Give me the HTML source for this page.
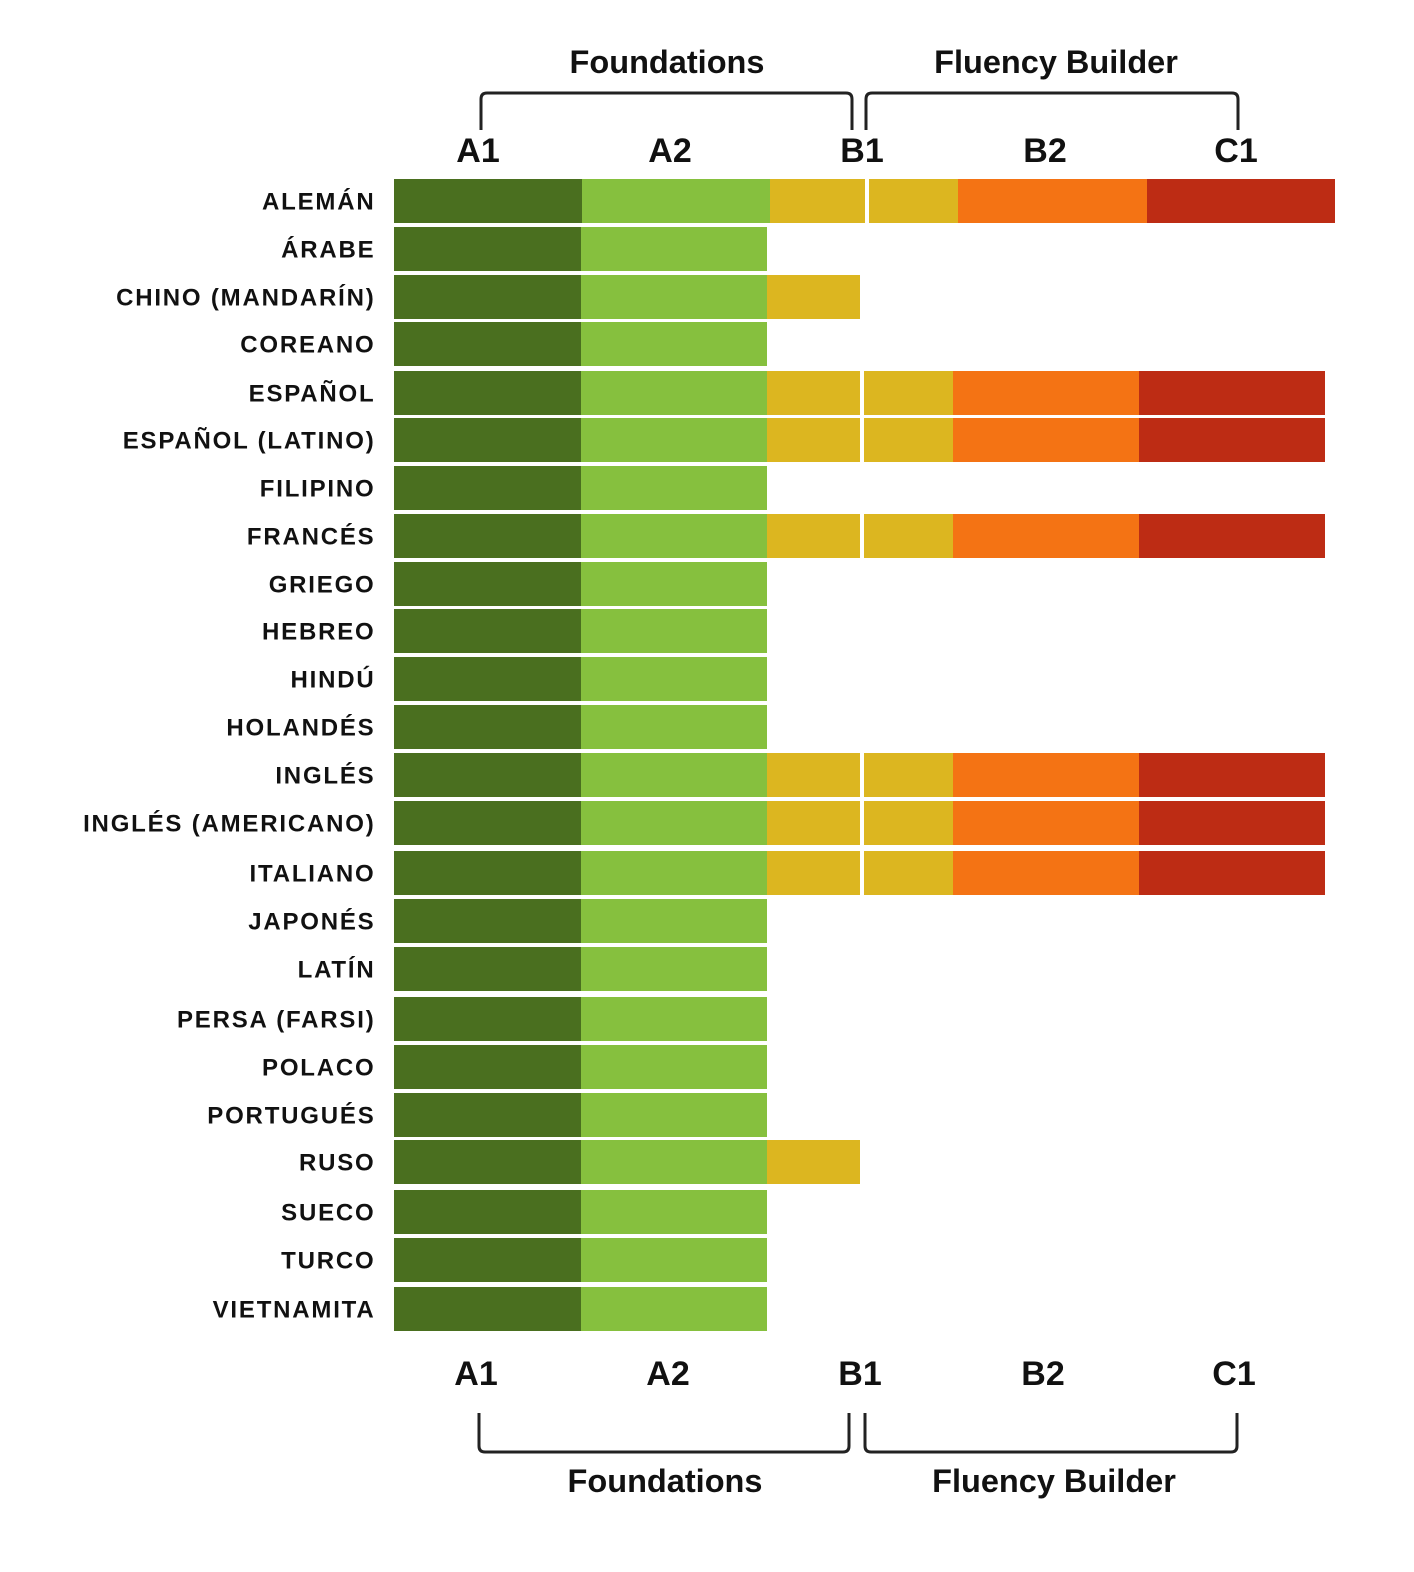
<!DOCTYPE html>
<html><head><meta charset="utf-8"><style>
html,body{margin:0;padding:0;background:#fff;}
svg{display:block;}
text{font-family:"Liberation Sans",sans-serif;font-weight:bold;fill:#111;}
</style></head><body>
<svg id="s" width="1414" height="1572" viewBox="0 0 1414 1572" xmlns="http://www.w3.org/2000/svg">
<g fill="none" stroke="#222" stroke-width="3">
<path d="M481 130 V99 Q481 93 487 93 H846 Q852 93 852 99 V130"/>
<path d="M866 130 V99 Q866 93 872 93 H1232 Q1238 93 1238 99 V130"/>
<path d="M479 1413 V1446 Q479 1452 485 1452 H843 Q849 1452 849 1446 V1413"/>
<path d="M865 1413 V1446 Q865 1452 871 1452 H1231 Q1237 1452 1237 1446 V1413"/>
</g>
<g font-size="32.5" text-anchor="middle">
<text x="667" y="73">Foundations</text><text x="1056" y="73">Fluency Builder</text>
<text x="665" y="1492">Foundations</text><text x="1054" y="1492">Fluency Builder</text>
</g>
<g font-size="34" text-anchor="middle">
<text x="478" y="162">A1</text><text x="670" y="162">A2</text><text x="862" y="162">B1</text><text x="1045" y="162">B2</text><text x="1236" y="162">C1</text>
<text x="476" y="1385">A1</text><text x="668" y="1385">A2</text><text x="860" y="1385">B1</text><text x="1043" y="1385">B2</text><text x="1234" y="1385">C1</text>
</g>
<g id="rows"></g>
</svg>
<script>
var rows=[["ALEMÁN",201,3],["ÁRABE",249,1],["CHINO (MANDARÍN)",297,2],["COREANO",344,1],["ESPAÑOL",393,3],["ESPAÑOL (LATINO)",440,3],["FILIPINO",488,1],["FRANCÉS",536,3],["GRIEGO",584,1],["HEBREO",631,1],["HINDÚ",679,1],["HOLANDÉS",727,1],["INGLÉS",775,3],["INGLÉS (AMERICANO)",823,3],["ITALIANO",873,3],["JAPONÉS",921,1],["LATÍN",969,1],["PERSA (FARSI)",1019,1],["POLACO",1067,1],["PORTUGUÉS",1115,1],["RUSO",1162,2],["SUECO",1212,1],["TURCO",1260,1],["VIETNAMITA",1309,1]];
var g=document.getElementById('rows'),h='';
rows.forEach(function(r,i){
 var y=r[1]-22,H=44;
 var a=(i==0)?[394,582,770,865,869,958,1147,1335]:[394,581,767,860,864,953,1139,1325];
 h+='<text x="375.5" y="'+(r[1]+8.5)+'" font-size="24" text-anchor="end" letter-spacing="1.8">'+r[0]+'</text>';
 h+='<rect x="'+a[0]+'" y="'+y+'" width="'+(a[1]-a[0])+'" height="'+H+'" fill="#4a6f1f"/>';
 h+='<rect x="'+a[1]+'" y="'+y+'" width="'+(a[2]-a[1])+'" height="'+H+'" fill="#86c03e"/>';
 if(r[2]>=2) h+='<rect x="'+a[2]+'" y="'+y+'" width="'+(a[3]-a[2])+'" height="'+H+'" fill="#dcb620"/>';
 if(r[2]==3){
  h+='<rect x="'+a[4]+'" y="'+y+'" width="'+(a[5]-a[4])+'" height="'+H+'" fill="#dcb620"/>';
  h+='<rect x="'+a[5]+'" y="'+y+'" width="'+(a[6]-a[5])+'" height="'+H+'" fill="#f47314"/>';
  h+='<rect x="'+a[6]+'" y="'+y+'" width="'+(a[7]-a[6])+'" height="'+H+'" fill="#bd2c14"/>';
 }
});
g.innerHTML=h;
</script>
</body></html>
